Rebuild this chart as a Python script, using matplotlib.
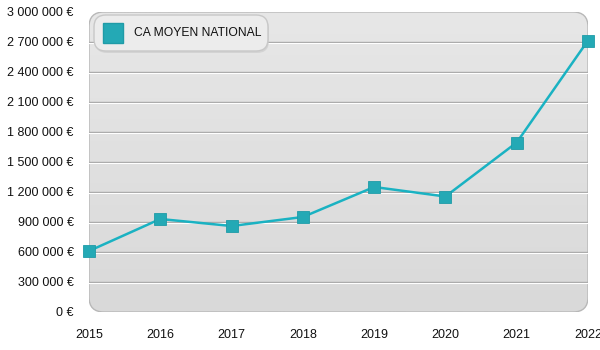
import numpy as np
import matplotlib
matplotlib.use("Agg")
import matplotlib.pyplot as plt
from matplotlib.patches import FancyBboxPatch
from matplotlib.lines import Line2D

plt.rcParams['font.family'] = ['Liberation Sans', 'DejaVu Sans']

years = [2015, 2016, 2017, 2018, 2019, 2020, 2021, 2022]
ca_moyen = [610000, 930000, 860000, 950000, 1250000, 1155000, 1695000, 2715000]
y_ticks = [0, 300000, 600000, 900000, 1200000, 1500000, 1800000, 2100000, 2400000, 2700000, 3000000]
series_name = "CA MOYEN NATIONAL"

def euro(v):
    return "{:,}".format(v).replace(",", " ") + " €"

fig = plt.figure(figsize=(6, 3.5), dpi=100)
ax = fig.add_axes([89 / 600, 1 - 312 / 350, 499 / 600, 300 / 350])
ax.set_xlim(years[0], years[-1])
ax.set_ylim(0, 3000000)

# rounded gradient background, lighter at the top
bg = FancyBboxPatch((0, 0), 1, 1, boxstyle="round,pad=0,rounding_size=0.03",
                    transform=ax.transAxes, facecolor="none", edgecolor="#b8b8b8",
                    lw=1.0, zorder=0.5, mutation_aspect=499 / 300)
ax.add_patch(bg)
grad = np.linspace(0, 1, 256).reshape(-1, 1)
im = ax.imshow(grad, cmap=matplotlib.colors.LinearSegmentedColormap.from_list(
    "g", ["#e7e7e7", "#d9d9d9"]), aspect="auto", extent=[0, 1, 0, 1], origin="upper",
    transform=ax.transAxes, zorder=0.1)
im.set_clip_path(bg)
ax.patch.set_visible(False)

# embossed grid lines
shift = matplotlib.transforms.ScaledTranslation(0, -1.2 / 100, fig.dpi_scale_trans)
for v in y_ticks[1:-1]:
    ax.axhline(v, color="#a8a8a8", lw=1.0, zorder=1)
    ax.plot([years[0], years[-1]], [v, v], color="white", lw=0.8, zorder=1,
            transform=ax.transData + shift)

ax.plot(years, ca_moyen, color="#1ab2c2", lw=1.8, zorder=3, clip_on=False)
ax.plot(years, ca_moyen, ls="none", marker="s", ms=9, mfc="#24a9b5", mec="#1f9ba7",
        mew=0.6, zorder=4, clip_on=False)

for s in ax.spines.values():
    s.set_visible(False)
ax.set_xticks(years)
ax.set_xticklabels([str(y) for y in years], fontsize=9)
ax.set_yticks(y_ticks)
ax.set_yticklabels([euro(v) for v in y_ticks], fontsize=9)
ax.tick_params(length=0, pad=11, colors="#111111")
ax.tick_params(axis="x", pad=12)

# legend with a soft shadow
shadow = FancyBboxPatch((95 / 600, 1 - 53 / 350), 174 / 600, 36 / 350,
                        boxstyle="round,pad=0,rounding_size=0.02", transform=fig.transFigure,
                        facecolor="#c8c8c8", edgecolor="none", alpha=0.6, zorder=4.9,
                        mutation_aspect=600 / 350)
fig.patches.append(shadow)
leg = FancyBboxPatch((94 / 600, 1 - 51 / 350), 174 / 600, 36 / 350,
                     boxstyle="round,pad=0,rounding_size=0.02", transform=fig.transFigure,
                     facecolor="#ececec", edgecolor="#c8c8c8", lw=1.0, zorder=5,
                     mutation_aspect=600 / 350)
fig.patches.append(leg)
fig.lines.append(Line2D([113 / 600], [1 - 33 / 350], transform=fig.transFigure,
                        marker="s", ms=14, mfc="#24a9b5", mec="#1f9ba7", ls="none", zorder=6))
fig.text(134 / 600, 1 - 33 / 350, series_name, fontsize=8.7, va="center", ha="left",
         color="#111111", zorder=6)

fig.savefig("out.png", dpi=100)
